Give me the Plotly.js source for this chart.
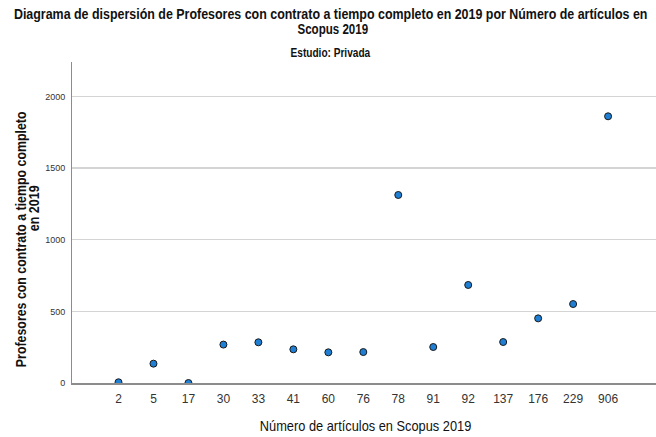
<!DOCTYPE html>
<html>
<head>
<meta charset="utf-8">
<script src="https://cdn.plot.ly/plotly-3.0.1.min.js"></script>
<style>html,body{margin:0;padding:0;background:#fff;}#chart{width:656px;height:437px;}</style>
</head>
<body>
<div id="chart"></div>
<script>
const categories = ["2","5","17","30","33","41","60","76","78","91","92","137","176","229","906"];
const profesores = [5, 135, 0, 268, 284, 235, 214, 216, 1312, 251, 684, 286, 451, 551, 1861];
const yTicks = [0, 500, 1000, 1500, 2000];
const titleLines = ['Diagrama de dispersión de Profesores con contrato a tiempo completo en 2019 por Número de artículos en', 'Scopus 2019'];
const subtitle = 'Estudio: Privada';
const xTitle = 'Número de artículos en Scopus 2019';
const yTitleLines = ['Profesores con contrato a tiempo completo', 'en 2019'];

const FONT = '"Liberation Sans", Arial, sans-serif';

// plot area in pixels
const L = 72, R = 656, T = 62, B = 383;
const px = x => (x - L) / (R - L);
const py = y => (B - y) / (B - T);

const trace = {
  type: 'scatter',
  mode: 'markers',
  x: categories,
  y: profesores,
  marker: {size: 7, color: '#1f7fd4', line: {color: '#1a1a1a', width: 1}},
  hoverinfo: 'x+y'
};

function ann(text, x, y, size, angle) {
  return {text: text, xref: 'paper', yref: 'paper', x: px(x), y: py(y),
    xanchor: 'center', yanchor: 'middle', textangle: angle || 0, showarrow: false,
    font: {family: FONT, size: size, color: '#111'}};
}

const annotations = [
  ann('<b>' + titleLines[0] + '</b>', 330, 14, 14),
  ann('<b>' + titleLines[1] + '</b>', 333, 29, 14),
  ann('<b>' + subtitle + '</b>', 330, 53, 12),
  ann(xTitle, 365, 426, 14),
  ann('<b>' + yTitleLines[0] + '</b>', 21, 240, 14, -90),
  ann('<b>' + yTitleLines[1] + '</b>', 34, 208, 14, -90)
];
// target text widths (px) to mimic the condensed font of the reference
const targetWidths = [634, 71, 80, 212, 256, 46];

const layout = {
  width: 656, height: 437,
  margin: {l: L, r: 656 - R, t: T, b: 437 - B},
  paper_bgcolor: '#ffffff', plot_bgcolor: '#ffffff',
  showlegend: false,
  font: {family: FONT, color: '#222'},
  xaxis: {
    type: 'category',
    categoryorder: 'array', categoryarray: categories,
    range: [-1.33, 15.37],
    showgrid: false, zeroline: false,
    showline: true, linecolor: '#8c8c8c', linewidth: 2,
    ticks: '', tickfont: {family: FONT, size: 12, color: '#333'},
    ticklabelstandoff: 4
  },
  yaxis: {
    range: [0, 2240],
    tickvals: yTicks,
    ticktext: yTicks.map(String),
    showgrid: true, gridcolor: '#d4d4d4', gridwidth: 1.5,
    zeroline: false,
    showline: true, linecolor: '#8c8c8c', linewidth: 1,
    ticks: '', tickfont: {family: FONT, size: 9, color: '#333'},
    ticklabelstandoff: 4
  },
  annotations: annotations
};

Plotly.newPlot('chart', [trace], layout, {displayModeBar: false, staticPlot: true}).then(function (gd) {
  const groups = gd.querySelectorAll('g.annotation');
  groups.forEach(function (g) {
    const i = +g.getAttribute('data-index');
    const t = g.querySelector('text.annotation-text');
    if (!t || !targetWidths[i]) return;
    const bb = t.getBBox();
    if (!bb.width) return;
    const s = targetWidths[i] / bb.width;
    const cx = bb.x + bb.width / 2;
    const prev = t.getAttribute('transform') || '';
    t.setAttribute('transform', prev + ' translate(' + cx + ',0) scale(' + s + ',1) translate(' + (-cx) + ',0)');
  });
});
</script>
</body>
</html>
